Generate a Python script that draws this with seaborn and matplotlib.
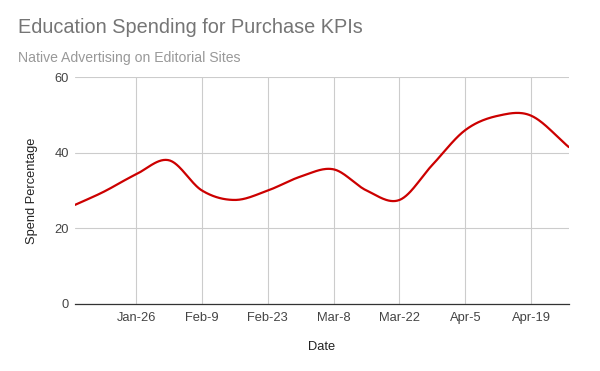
import numpy as np
import pandas as pd
import matplotlib
matplotlib.use('Agg')
import matplotlib.pyplot as plt
import matplotlib.dates as mdates
import seaborn as sns

# values
dates = ['2020-01-13', '2020-01-19', '2020-01-26', '2020-02-02', '2020-02-09',
         '2020-02-16', '2020-02-23', '2020-03-01', '2020-03-08', '2020-03-15',
         '2020-03-22', '2020-03-29', '2020-04-05', '2020-04-12', '2020-04-19',
         '2020-04-27']
spend = [26.2, 29.6, 34.3, 38.0, 30.0, 27.5, 30.0, 33.7, 35.6, 30.0,
         27.5, 36.8, 46.0, 49.8, 49.8, 41.5]
tick_dates = ['2020-01-26', '2020-02-09', '2020-02-23', '2020-03-08',
              '2020-03-22', '2020-04-05', '2020-04-19']
y_ticks = [0, 20, 40, 60]

df = pd.DataFrame({'date': pd.to_datetime(dates), 'spend': spend})


def smooth(x, y, n=30):
    # catmull-rom style curve through the points, for the rounded line look
    x = np.asarray(x, float)
    y = np.asarray(y, float)
    xs, ys = [], []
    for i in range(len(x) - 1):
        x0, x1 = x[i], x[i + 1]
        y0, y1 = y[i], y[i + 1]
        if i == 0:
            m0 = (y1 - y0) / (x1 - x0)
        else:
            m0 = (y1 - y[i - 1]) / (x1 - x[i - 1])
        if i + 2 < len(x):
            m1 = (y[i + 2] - y0) / (x[i + 2] - x0)
        else:
            m1 = (y1 - y0) / (x1 - x0)
        t = np.linspace(0, 1, n, endpoint=False)
        h = x1 - x0
        h00 = 2 * t**3 - 3 * t**2 + 1
        h10 = t**3 - 2 * t**2 + t
        h01 = -2 * t**3 + 3 * t**2
        h11 = t**3 - t**2
        xs.append(x0 + t * h)
        ys.append(h00 * y0 + h10 * h * m0 + h01 * y1 + h11 * h * m1)
    xs.append([x[-1]])
    ys.append([y[-1]])
    return np.concatenate(xs), np.concatenate(ys)


xn = mdates.date2num(df['date'])
sx, sy = smooth(xn, df['spend'])
curve = pd.DataFrame({'date': mdates.num2date(sx), 'spend': sy})
curve['date'] = pd.to_datetime(curve['date']).dt.tz_localize(None)

sns.set_style('white')
plt.rcParams['font.family'] = ['Liberation Sans', 'DejaVu Sans']

fig = plt.figure(figsize=(6, 3.71), dpi=100)
ax = fig.add_axes([0.125, 0.181, 0.823, 0.611])

sns.lineplot(data=curve, x='date', y='spend', color='#cc0000', linewidth=1.6, ax=ax)

ax.set_xlim(df['date'].iloc[0], df['date'].iloc[-1])
ax.set_ylim(0, 60)
ax.set_yticks(y_ticks)
ax.set_xticks(pd.to_datetime(tick_dates))
ax.xaxis.set_major_formatter(mdates.DateFormatter('%b-%-d'))
ax.grid(True, color='#cccccc', linewidth=0.8)
ax.set_axisbelow(True)
for s in ['top', 'right', 'left']:
    ax.spines[s].set_visible(False)
ax.spines['bottom'].set_color('#333333')
ax.spines['bottom'].set_linewidth(0.9)
ax.tick_params(axis='both', length=0, labelsize=9.3, colors='#444444')
ax.tick_params(axis='x', pad=6)
ax.tick_params(axis='y', pad=4.5)

ax.set_xlabel('Date', fontsize=9.3, color='#222222', labelpad=12)
ax.set_ylabel('Spend Percentage', fontsize=9.3, color='#222222', labelpad=12)

fig.text(0.03, 0.925, 'Education Spending for Purchase KPIs', fontsize=14.3,
         color='#757575', va='center')
fig.text(0.03, 0.845, 'Native Advertising on Editorial Sites', fontsize=10.1,
         color='#999999', va='center')

fig.savefig('out.png', dpi=100)
